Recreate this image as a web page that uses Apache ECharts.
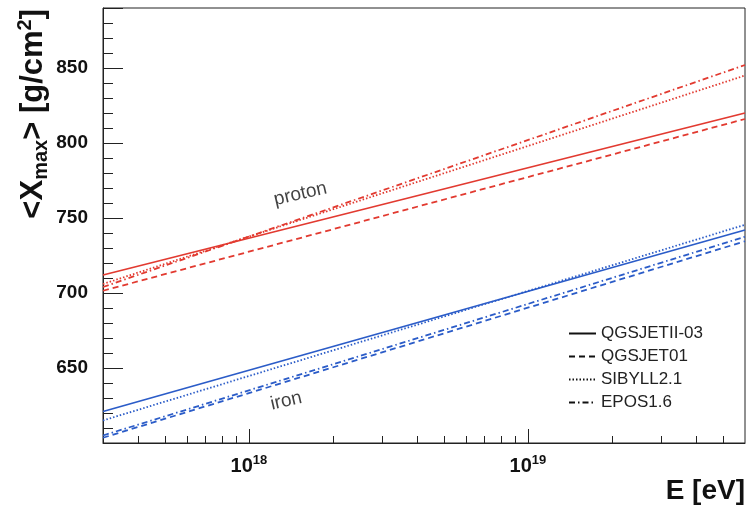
<!DOCTYPE html>
<html>
<head>
<meta charset="utf-8">
<script src="https://cdn.jsdelivr.net/npm/echarts@6/dist/echarts.min.js"></script>
<style>
  html, body { margin: 0; padding: 0; background: #fff; }
  #chart { width: 748px; height: 515px; }
</style>
</head>
<body>
<div id="chart"></div>
<script>
// Mean depth of shower maximum vs primary energy, per hadronic interaction model
const energyRange = [3e17, 6e19];                 // eV, ends of each prediction line
const models = ['QGSJETII-03', 'QGSJET01', 'SIBYLL2.1', 'EPOS1.6'];
const protonStart = [712, 701.5, 706, 704];       // g/cm^2 at 3e17 eV
const protonEnd   = [820, 816, 845, 852];         // g/cm^2 at 6e19 eV
const ironStart   = [621, 603.5, 615, 605];
const ironEnd     = [742, 734.5, 745.5, 737.5];

// axis ticks and labels
const xMinorTicks = [4e17, 5e17, 6e17, 7e17, 8e17, 9e17,
                     2e18, 3e18, 4e18, 5e18, 6e18, 7e18, 8e18, 9e18,
                     2e19, 3e19, 4e19, 5e19];
const yLabels     = [650, 700, 750, 800, 850];

const RED = '#e23a30';
const BLUE = '#2b5cc8';
const INK = '#111';
const AXIS = '#222';
const FONT = "'Liberation Sans', Arial, Helvetica, sans-serif";
const lineTypes = ['solid', [6, 4], [1.5, 2], [6, 3, 1.5, 3]];

const series = [];
models.forEach((name, i) => {
  series.push({
    name, type: 'line', symbol: 'none', silent: true,
    xAxisIndex: 0, yAxisIndex: 0,
    data: [[energyRange[0], protonStart[i]], [energyRange[1], protonEnd[i]]],
    lineStyle: { color: RED, width: 1.8, type: lineTypes[i] },
    itemStyle: { color: RED }
  });
  series.push({
    name, type: 'line', symbol: 'none', silent: true,
    xAxisIndex: 0, yAxisIndex: 0,
    data: [[energyRange[0], ironStart[i]], [energyRange[1], ironEnd[i]]],
    lineStyle: { color: BLUE, width: 1.8, type: lineTypes[i] },
    itemStyle: { color: BLUE }
  });
});

// primary labels written along the lines
const primaryLabels = [
  { text: 'proton', coord: [1.53e18, 766] },
  { text: 'iron', coord: [1.36e18, 628] }
];
series.push({
  type: 'scatter', silent: true, xAxisIndex: 0, yAxisIndex: 0,
  data: primaryLabels.map(p => ({ value: p.coord, name: p.text })),
  symbolSize: 0,
  label: {
    show: true, position: 'inside', rotate: 13,
    formatter: p => p.name,
    fontFamily: FONT, fontSize: 19, color: INK
  }
});

const isPowerOfTen = v => Math.abs(Math.log10(v) - Math.round(Math.log10(v))) < 1e-9;

const chart = echarts.init(document.getElementById('chart'), null, { renderer: 'canvas' });
chart.setOption({
  animation: false,
  backgroundColor: '#fff',
  grid: { left: 103, right: 3, top: 8, bottom: 72, show: true, borderColor: AXIS, borderWidth: 1, backgroundColor: 'transparent' },
  xAxis: [
    {
      type: 'log', logBase: 10, min: energyRange[0], max: energyRange[1], position: 'bottom',
      axisLine: { show: true, lineStyle: { color: AXIS, width: 1 } },
      axisTick: { show: true, inside: true, length: 14, lineStyle: { color: AXIS, width: 1 } },
      axisLabel: {
        margin: 11, showMinLabel: false, showMaxLabel: false,
        formatter: v => isPowerOfTen(v) ? '{b|10}{s|' + Math.round(Math.log10(v)) + '}' : '',
        rich: {
          b: { fontFamily: FONT, fontWeight: 'bold', fontSize: 20, color: INK, lineHeight: 24 },
          s: { fontFamily: FONT, fontWeight: 'bold', fontSize: 13, color: INK, lineHeight: 14, verticalAlign: 'top' }
        }
      },
      splitLine: { show: false }
    },
    {
      type: 'log', logBase: 10, min: energyRange[0], max: energyRange[1], position: 'bottom', offset: 0,
      axisLine: { show: false },
      axisTick: { show: true, inside: true, length: 7, customValues: xMinorTicks, lineStyle: { color: AXIS } },
      axisLabel: { show: false },
      splitLine: { show: false }
    }
  ],
  yAxis: [
    {
      type: 'value', min: 600, max: 890, interval: 50, position: 'left',
      axisLine: { show: true, lineStyle: { color: AXIS, width: 1 } },
      axisTick: { show: true, inside: true, length: 20, lineStyle: { color: AXIS, width: 1 } },
      axisLabel: { customValues: yLabels, margin: 15, fontFamily: FONT, fontWeight: 'bold', fontSize: 19, color: INK },
      splitLine: { show: false }
    },
    {
      type: 'value', min: 600, max: 890, interval: 10, position: 'left', offset: 0,
      axisLine: { show: false },
      axisTick: { show: true, inside: true, length: 10, lineStyle: { color: AXIS } },
      axisLabel: { show: false },
      splitLine: { show: false }
    }
  ],
  legend: {
    data: models,
    orient: 'vertical', left: 563, top: 320,
    itemWidth: 27, itemHeight: 14, itemGap: 6,
    lineStyle: { color: INK },
    itemStyle: { opacity: 0 },
    textStyle: { fontFamily: FONT, fontSize: 17, color: '#222' },
    selectedMode: false
  },
  graphic: [
    {
      type: 'text', x: 33, y: 9, rotation: Math.PI / 2,
      style: {
        text: '{a|<X}{b|max}{a|> [g/cm}{c|2}{a|]}',
        align: 'right', verticalAlign: 'middle',
        rich: {
          a: { fontFamily: FONT, fontWeight: 'bold', fontSize: 31, fill: INK, lineHeight: 36 },
          b: { fontFamily: FONT, fontWeight: 'bold', fontSize: 20, fill: INK, lineHeight: 20, verticalAlign: 'bottom' },
          c: { fontFamily: FONT, fontWeight: 'bold', fontSize: 20, fill: INK, lineHeight: 20, verticalAlign: 'top' }
        }
      }
    },
    {
      type: 'text', x: 745, y: 491,
      style: { text: 'E [eV]', align: 'right', verticalAlign: 'middle', fontFamily: FONT, fontWeight: 'bold', fontSize: 28, fill: INK }
    }
  ],
  series
});
</script>
</body>
</html>
